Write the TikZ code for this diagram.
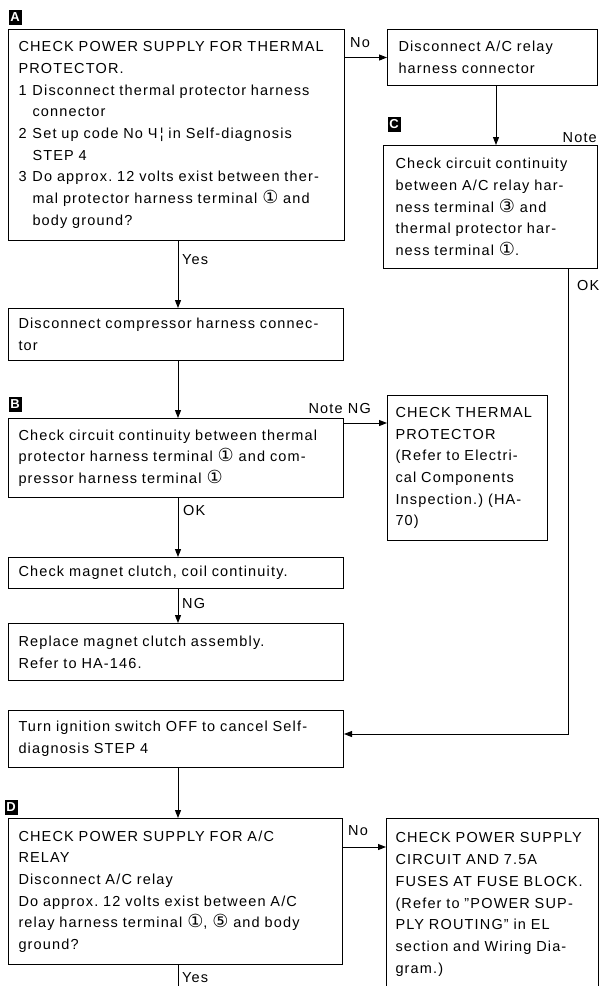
\documentclass[tikz,border=0pt]{standalone}
\usepackage{fontspec}
\setmainfont{Liberation Sans}[LetterSpace=8]
\newfontfamily\circfont{DejaVu Sans}
\usetikzlibrary{arrows.meta}
\frenchspacing
% circled terminal numbers
\newcommand\cn[1]{{\circfont\fontsize{18}{18}\selectfont #1}}
% one unbreakable line of box text
\newcommand\tline[1]{\mbox{#1}}
\begin{document}
\begin{tikzpicture}[x=1pt,y=-1pt,
  txt/.style={font=\fontsize{14.5}{21.7}\selectfont},
  box/.style={txt,draw,line width=1pt,anchor=north west,align=left,inner ysep=0pt,inner xsep=#1},
  box/.default=10pt,
  tag/.style={fill=black,text=white,font=\fontsize{13}{13}\selectfont\bfseries,inner sep=0pt,minimum width=13pt,minimum height=15pt},
  lab/.style={txt,inner sep=0pt},
  link/.style={line width=1pt},
  arr/.style={link,-{Triangle[length=8pt,width=6pt]}}]
\useasboundingbox (0,0) rectangle (599,986);
\fill[white] (0,0) rectangle (599,986);
\clip (0,0) rectangle (599,986);

% connector columns
\coordinate (colx) at (178,0);
\coordinate (relx) at (496,0);
\coordinate (okx) at (568,0);
\coordinate (foot) at (178,995);

% step tags
\node[tag] (tagA) at (15,17) {A};
\node[tag] (tagB) at (15,404) {B};
\node[tag] (tagC) at (394,124) {C};
\node[tag] (tagD) at (11,807) {D};

% boxes
\node[box, text width=316pt, minimum height=211pt] (chkA) at (8,29) {%
\tline{CHECK POWER SUPPLY FOR THERMAL}\\
\tline{PROTECTOR.}\\
\tline{\makebox[14pt][l]{1}Disconnect thermal protector harness}\\
\tline{\hspace*{14pt}connector}\\
\tline{\makebox[14pt][l]{2}Set up code No Ч\,¦ in Self-diagnosis}\\
\tline{\hspace*{14pt}STEP 4}\\
\tline{\makebox[14pt][l]{3}Do approx. 12 volts exist between ther-}\\
\tline{\hspace*{14pt}mal protector harness terminal \cn{①} and}\\
\tline{\hspace*{14pt}body ground?}};

\node[box=11pt, text width=188pt, minimum height=56pt] (relay) at (387,29) {%
\tline{Disconnect A/C relay}\\
\tline{harness connector}};

\node[box=12pt, text width=190pt, minimum height=123pt] (chkC) at (383,145) {%
\tline{Check circuit continuity}\\
\tline{between A/C relay har-}\\
\tline{ness terminal \cn{③} and}\\
\tline{thermal protector har-}\\
\tline{ness terminal \cn{①}.}};

\node[box, text width=315pt, minimum height=52pt] (dc) at (8,308) {%
\tline{Disconnect compressor harness connec-}\\
\tline{tor}};

\node[box, text width=315pt, minimum height=79pt] (bb) at (8,418) {%
\tline{Check circuit continuity between thermal}\\
\tline{protector harness terminal \cn{①} and com-}\\
\tline{pressor harness terminal \cn{①}}};

\node[box=8pt, text width=144pt, minimum height=145pt] (th) at (387,395) {%
\tline{CHECK THERMAL}\\
\tline{PROTECTOR}\\
\tline{(Refer to Electri-}\\
\tline{cal Components}\\
\tline{Inspection.) (HA-}\\
\tline{70)}};

\node[box, text width=315pt, minimum height=31pt] (mag) at (8,557) {%
\tline{Check magnet clutch, coil continuity.}};

\node[box, text width=315pt, minimum height=57pt] (rep) at (8,623) {%
\tline{Replace magnet clutch assembly.}\\
\tline{Refer to HA-146.}};

\node[box, text width=315pt, minimum height=57pt] (turn) at (8,710) {%
\tline{Turn ignition switch OFF to cancel Self-}\\
\tline{diagnosis STEP 4}};

\node[box, text width=314pt, minimum height=146pt] (dd) at (8,818) {%
\tline{CHECK POWER SUPPLY FOR A/C}\\
\tline{RELAY}\\
\tline{Disconnect A/C relay}\\
\tline{Do approx. 12 volts exist between A/C}\\
\tline{relay harness terminal \cn{①}, \cn{⑤} and body}\\
\tline{ground?}};

\node[box=9pt, text width=194pt, minimum height=172pt] (pw) at (386,818) {%
\tline{CHECK POWER SUPPLY}\\
\tline{CIRCUIT AND 7.5A}\\
\tline{FUSES AT FUSE BLOCK.}\\
\tline{(Refer to ''POWER SUP-}\\
\tline{PLY ROUTING'' in EL}\\
\tline{section and Wiring Dia-}\\
\tline{gram.)}};

% connectors
\draw[arr] (chkA.east |- relay.west) -- (relay.west);
\draw[arr] (relay.south -| relx) -- (chkC.north -| relx);
\draw[arr] (chkA.south -| colx) -- (dc.north -| colx);
\draw[arr] (dc.south -| colx) -- (bb.north -| colx);
\draw[arr] ([yshift=-5pt]bb.north east) -- ([yshift=-5pt]bb.north east -| th.west);
\draw[arr] (bb.south -| colx) -- (mag.north -| colx);
\draw[arr] (mag.south -| colx) -- (rep.north -| colx);
\draw[arr] (chkC.south -| okx) |- ([yshift=5pt]turn.east);
\draw[arr] (turn.south -| colx) -- (dd.north -| colx);
\draw[arr] ([yshift=-29pt]dd.north east) -- ([yshift=-29pt]dd.north east -| pw.west);
\draw[link] (dd.south -| colx) -- (foot);

% connector labels
\node[lab,anchor=base west] (noA) at (350,47) {No};
\node[lab,anchor=base west] (yesA) at (182,264) {Yes};
\node[lab,anchor=base east] (noteC) at (597,142) {Note};
\node[lab,anchor=base west] (okC) at (577,290) {OK};
\node[lab,anchor=base east] (noteB) at (371,413) {Note NG};
\node[lab,anchor=base west] (okB) at (183,515) {OK};
\node[lab,anchor=base west] (ngM) at (182,608) {NG};
\node[lab,anchor=base west] (noD) at (348,835) {No};
\node[lab,anchor=base west] (yesD) at (182,982) {Yes};
\end{tikzpicture}
\end{document}
